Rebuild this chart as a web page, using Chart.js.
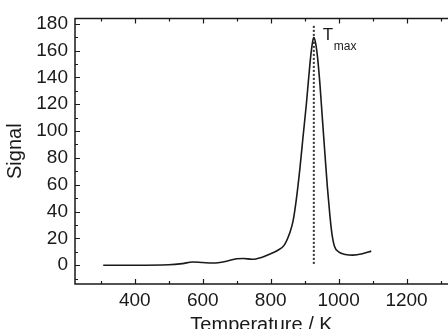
<!DOCTYPE html>
<html>
<head>
<meta charset="utf-8">
<script src="https://cdn.jsdelivr.net/npm/chart.js@4/dist/chart.umd.min.js"></script>
<style>
  html, body { margin:0; padding:0; background:#fff; }
  #wrap { width:448px; height:329px; }
</style>
</head>
<body>
<div id="wrap"><canvas id="c" width="448" height="329"></canvas></div>
<script>
  // values
  const temps  = [307, 400, 500, 540, 570, 600, 630, 670, 700, 720, 745, 775, 800, 820, 840, 856, 866, 876, 886, 895, 905, 912, 918, 923, 927, 932, 938, 945, 952, 960, 967, 974, 980, 988, 1000, 1020, 1042, 1070, 1096];
  const signal = [0,   0,   0.3, 1.2, 2.4, 2.0, 1.7, 3.0, 4.8, 5.0, 4.4, 6.0, 8.5, 11,  15,  24,  33,  50,  72,  95,  120, 140, 156, 166, 170, 166, 155, 135, 110, 82,  58,  38,  24,  14,  10,   8,    7.5,  8.5,  10.5];
  const tMax = 927;
  const tMaxLine = [1, 179];
  const xTicks = [400, 600, 800, 1000, 1200];
  const xMinor = [300, 500, 700, 900, 1100, 1300];
  const yTicks = [0, 20, 40, 60, 80, 100, 120, 140, 160, 180];
  const yMinor = [-10, 10, 30, 50, 70, 90, 110, 130, 150, 170];
  const xRange = [224, 1322];
  const yRange = [-14, 184];

  const FONT = "'Liberation Sans', Arial, sans-serif";
  const INK = "#1a1a1a";

  // frame + inward ticks + T_max label
  const framePlugin = {
    id: "frame",
    afterDatasetsDraw(chart){
      const {ctx, chartArea:a, scales:{x, y}} = chart;
      ctx.save();
      ctx.strokeStyle = INK;
      ctx.lineWidth = 1.5;
      ctx.beginPath();
      ctx.moveTo(a.right + 2, a.top); ctx.lineTo(a.left, a.top);
      ctx.lineTo(a.left, a.bottom); ctx.lineTo(a.right + 2, a.bottom);
      ctx.stroke();

      ctx.lineWidth = 1.2;
      ctx.beginPath();
      const tick = (vals, len) => {
        vals.forEach(v => {
          const px = Math.round(x.getPixelForValue(v)) + 0.5;
          ctx.moveTo(px, a.bottom); ctx.lineTo(px, a.bottom - len);
          ctx.moveTo(px, a.top);    ctx.lineTo(px, a.top + len);
        });
      };
      const ytick = (vals, len) => {
        vals.forEach(v => {
          const py = Math.round(y.getPixelForValue(v)) + 0.5;
          ctx.moveTo(a.left, py); ctx.lineTo(a.left + len, py);
        });
      };
      tick(xTicks, 5); tick(xMinor, 3);
      ytick(yTicks, 5); ytick(yMinor, 3);
      ctx.stroke();

      const tx = x.getPixelForValue(tMax) + 9;
      const ty = y.getPixelForValue(tMaxLine[1]) + 15;
      ctx.fillStyle = INK;
      ctx.textBaseline = "alphabetic";
      ctx.font = "17px " + FONT;
      ctx.fillText("T", tx, ty);
      ctx.font = "12px " + FONT;
      ctx.fillText("max", tx + 11, ty + 10);
      ctx.restore();
    }
  };

  new Chart(document.getElementById("c"), {
    type: "scatter",
    data: {
      datasets: [
        {
          data: temps.map((t, i) => ({x: t, y: signal[i]})),
          showLine: true, borderColor: INK, borderWidth: 1.6,
          pointRadius: 0, tension: 0.4, cubicInterpolationMode: "monotone"
        },
        {
          data: tMaxLine.map(v => ({x: tMax, y: v})),
          showLine: true, borderColor: "#333", borderWidth: 2,
          borderDash: [2, 2], pointRadius: 0
        }
      ]
    },
    options: {
      responsive: false,
      animation: false,
      layout: { padding: { top: 15, right: 0, left: 0, bottom: 0 } },
      plugins: { legend: { display: false }, tooltip: { enabled: false } },
      scales: {
        x: {
          type: "linear", min: xRange[0], max: xRange[1],
          afterBuildTicks: s => { s.ticks = xTicks.map(v => ({value: v})); },
          afterFit: s => { s.height = 45; },
          grid: { display: false, drawTicks: false },
          border: { display: false },
          ticks: { color: INK, font: { family: FONT, size: 19 }, padding: 5, maxRotation: 0,
                   callback: v => String(v) },
          title: { display: true, text: "Temperature / K", color: INK,
                   font: { family: FONT, size: 20, lineHeight: 1 }, padding: { top: 0, bottom: -6 } }
        },
        y: {
          type: "linear", min: yRange[0], max: yRange[1],
          afterBuildTicks: s => { s.ticks = yTicks.map(v => ({value: v})); },
          afterFit: s => { s.width = 75; },
          grid: { display: false, drawTicks: false },
          border: { display: false },
          ticks: { color: INK, font: { family: FONT, size: 19 }, padding: 7,
                   callback: v => String(v) },
          title: { display: true, text: "Signal", color: INK,
                   font: { family: FONT, size: 20, lineHeight: 1 }, padding: { top: 5, bottom: 0 } }
        }
      }
    },
    plugins: [framePlugin]
  });
</script>
</body>
</html>
